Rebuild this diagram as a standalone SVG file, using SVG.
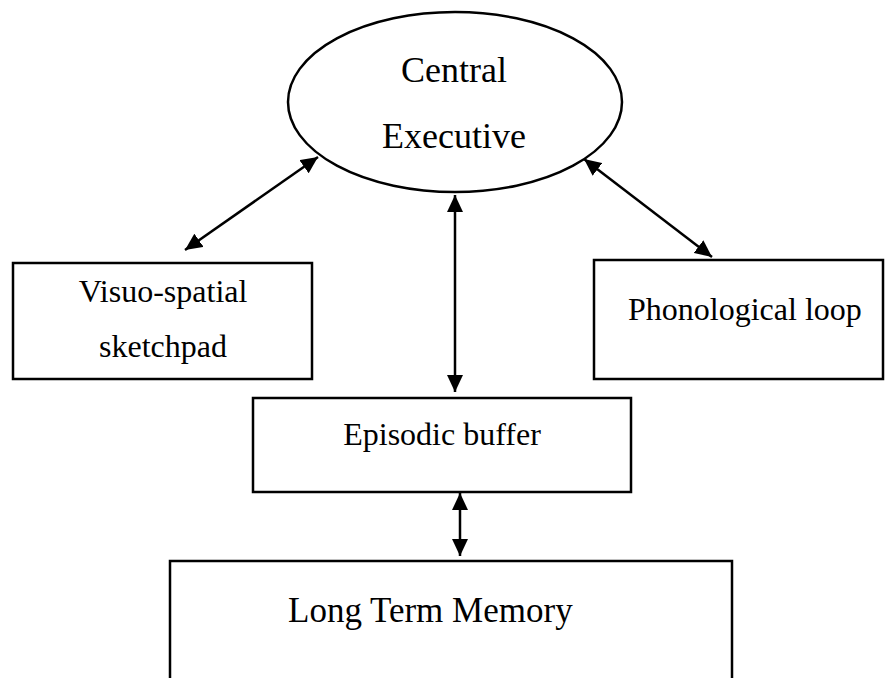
<svg xmlns="http://www.w3.org/2000/svg" width="885" height="678" viewBox="0 0 885 678">
  <style>
    .shape { fill: #ffffff; stroke: #000000; stroke-width: 2.5; }
    .lbl { font-family: "Liberation Serif", "Times New Roman", serif; fill: #000000; }
    .conn { stroke: #000000; stroke-width: 2.5; fill: none; marker-start: url(#ah); marker-end: url(#ah); }
  </style>
  <defs>
    <marker id="ah" viewBox="0 0 17 16" refX="17" refY="8" markerWidth="17" markerHeight="16" markerUnits="userSpaceOnUse" orient="auto-start-reverse">
      <path d="M0,0 L17,8 L0,16 Z" fill="#000000"/>
    </marker>
  </defs>
  <rect x="0" y="0" width="885" height="678" fill="#ffffff"/>

  <g id="central-executive">
    <ellipse class="shape" cx="455" cy="102" rx="167" ry="90"/>
    <text class="lbl" x="454" y="82" font-size="36" text-anchor="middle">Central</text>
    <text class="lbl" x="454" y="148" font-size="36" text-anchor="middle">Executive</text>
  </g>

  <g id="visuo-spatial">
    <rect class="shape" x="13" y="263" width="299" height="116"/>
    <text class="lbl" x="163" y="302" font-size="32" text-anchor="middle">Visuo-spatial</text>
    <text class="lbl" x="163" y="357" font-size="32" text-anchor="middle">sketchpad</text>
  </g>

  <g id="phonological-loop">
    <rect class="shape" x="594" y="260" width="289" height="119"/>
    <text class="lbl" x="628" y="320" font-size="32">Phonological loop</text>
  </g>

  <g id="episodic-buffer">
    <rect class="shape" x="253" y="398" width="378" height="94"/>
    <text class="lbl" x="442" y="445" font-size="32" text-anchor="middle">Episodic buffer</text>
  </g>

  <g id="long-term-memory">
    <rect class="shape" x="170" y="561" width="562" height="130"/>
    <text class="lbl" x="288" y="622" font-size="35">Long Term Memory</text>
  </g>

  <g id="connectors">
    <line class="conn" x1="185" y1="250" x2="318" y2="157"/>
    <line class="conn" x1="584" y1="159" x2="712" y2="257"/>
    <line class="conn" x1="455" y1="195" x2="455" y2="392"/>
    <line class="conn" x1="460" y1="493" x2="460" y2="556"/>
  </g>
</svg>
